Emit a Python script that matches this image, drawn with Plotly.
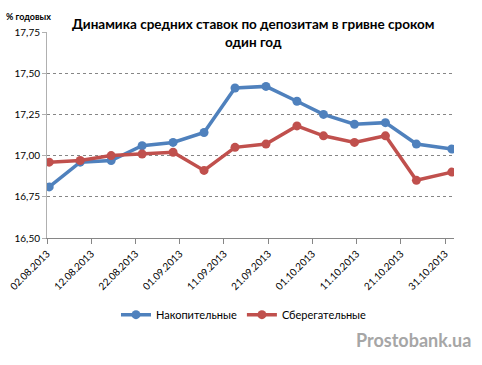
import plotly.graph_objects as go
import pandas as pd

dates = ["02.08.2013", "09.08.2013", "16.08.2013", "23.08.2013", "30.08.2013",
         "06.09.2013", "13.09.2013", "20.09.2013", "27.09.2013", "03.10.2013",
         "10.10.2013", "17.10.2013", "24.10.2013", "01.11.2013"]
nakopitelnye = [16.81, 16.96, 16.97, 17.06, 17.08, 17.14, 17.41, 17.42, 17.33,
                17.25, 17.19, 17.20, 17.07, 17.04]
sberegatelnye = [16.96, 16.97, 17.00, 17.01, 17.02, 16.91, 17.05, 17.07, 17.18,
                 17.12, 17.08, 17.12, 16.85, 16.90]
tick_labels = ["02.08.2013", "12.08.2013", "22.08.2013", "01.09.2013", "11.09.2013",
               "21.09.2013", "01.10.2013", "11.10.2013", "21.10.2013", "31.10.2013"]
y_ticks = [16.50, 16.75, 17.00, 17.25, 17.50, 17.75]

# Excel date axis puts each point in the middle of its day
x = pd.to_datetime(dates, format="%d.%m.%Y") + pd.Timedelta(hours=12)
tickvals = pd.to_datetime(tick_labels, format="%d.%m.%Y")

FONT = "Lato, Liberation Sans, sans-serif"

fig = go.Figure()
fig.add_trace(go.Scatter(x=x, y=nakopitelnye, name="Накопительные", mode="lines+markers",
                         line=dict(color="#4F81BD", width=3.5),
                         marker=dict(color="#4F81BD", size=9)))
fig.add_trace(go.Scatter(x=x, y=sberegatelnye, name="Сберегательные", mode="lines+markers",
                         line=dict(color="#C0504D", width=3.5),
                         marker=dict(color="#C0504D", size=9)))

fig.update_layout(
    width=482, height=365,
    margin=dict(l=47, r=28, t=32, b=127),
    paper_bgcolor="white", plot_bgcolor="white",
    separators=", ",
    font=dict(family=FONT, size=10, color="#000000"),
    showlegend=True,
    legend=dict(orientation="h", x=0.484, y=-0.372, xanchor="center", yanchor="middle",
                font=dict(size=11, family=FONT), itemwidth=30, bgcolor="rgba(0,0,0,0)"),
    xaxis=dict(type="date", range=["2013-08-02", "2013-11-02"], automargin=False,
               tickvals=tickvals, ticktext=tick_labels, tickangle=-45,
               showgrid=False, showline=True, linecolor="#868686", linewidth=1,
               ticks="outside", ticklen=5, tickcolor="#868686",
               tickfont=dict(size=10, family=FONT), zeroline=False),
    yaxis=dict(range=[16.5, 17.75], tickvals=y_ticks, tickformat=".2f", automargin=False,
               showgrid=True, gridcolor="#868686", griddash="dot", gridwidth=1,
               showline=True, linecolor="#B0B0B0", linewidth=1,
               ticks="outside", ticklen=4, tickcolor="#B0B0B0",
               tickfont=dict(size=10, family=FONT), zeroline=False),
)

fig.add_annotation(text="<b>Динамика средних ставок по депозитам в гривне сроком<br>один год</b>",
                   xref="paper", yref="paper", x=0.506, y=1.085, xanchor="center", yanchor="top",
                   showarrow=False, font=dict(size=13.5, family=FONT, color="#000000"),
                   align="center")
fig.add_annotation(text="<b>% годовых</b>", xref="paper", yref="paper",
                   x=-0.105, y=1.075, xanchor="left", yanchor="middle",
                   showarrow=False, font=dict(size=9, family=FONT, color="#000000"))
fig.add_annotation(text="<b>Prostobank.ua</b>", xref="paper", yref="paper",
                   x=1.047, y=-0.497, xanchor="right", yanchor="middle",
                   showarrow=False, font=dict(size=18, family=FONT, color="#A6A6A6"))

fig.write_html("out.html", config={"displayModeBar": False},
               post_script="document.body.style.margin='0';document.body.style.padding='0';")
